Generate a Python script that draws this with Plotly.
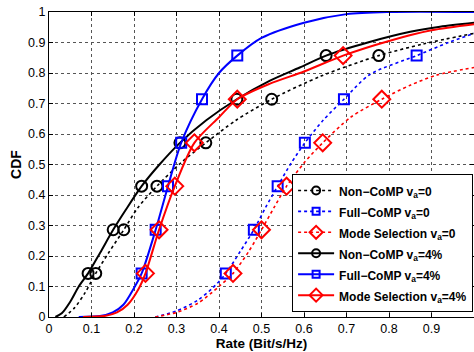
import plotly.graph_objects as go

# ---- data ----
# smooth CDF curves (x = rate, y = CDF)
nc4_x = [0.015, 0.03, 0.05, 0.07, 0.092, 0.12, 0.151, 0.18, 0.218, 0.26, 0.308, 0.37, 0.442, 0.52, 0.59, 0.652, 0.75, 0.85, 0.92, 1.0]
nc4_y = [0.0, 0.012, 0.05, 0.1, 0.143, 0.21, 0.286, 0.35, 0.429, 0.5, 0.571, 0.645, 0.714, 0.775, 0.818, 0.857, 0.9, 0.935, 0.952, 0.965]

nc0_x = [0.035, 0.06, 0.085, 0.11, 0.14, 0.176, 0.21, 0.254, 0.31, 0.369, 0.44, 0.524, 0.64, 0.776, 0.88, 1.0]
nc0_y = [0.0, 0.03, 0.08, 0.143, 0.21, 0.286, 0.36, 0.429, 0.505, 0.571, 0.645, 0.714, 0.79, 0.857, 0.895, 0.93]

fc4_x = [0.07, 0.12, 0.15, 0.175, 0.2, 0.218, 0.251, 0.28, 0.311, 0.36, 0.4, 0.443, 0.5, 0.6, 0.7, 0.8, 1.0]
fc4_y = [0.0, 0.003, 0.015, 0.04, 0.095, 0.143, 0.286, 0.429, 0.571, 0.714, 0.8, 0.857, 0.915, 0.965, 0.993, 1.0, 1.0]

fc0_x = [0.25, 0.3, 0.35, 0.385, 0.416, 0.45, 0.482, 0.51, 0.538, 0.57, 0.602, 0.645, 0.694, 0.755, 0.865, 0.94, 1.0]
fc0_y = [0.0, 0.02, 0.055, 0.095, 0.143, 0.215, 0.286, 0.36, 0.429, 0.505, 0.571, 0.645, 0.714, 0.795, 0.857, 0.9, 0.93]

ms4_x = [0.08, 0.13, 0.16, 0.185, 0.21, 0.227, 0.259, 0.296, 0.342, 0.4, 0.443, 0.52, 0.6, 0.692, 0.8, 0.9, 1.0]
ms4_y = [0.0, 0.003, 0.015, 0.04, 0.09, 0.143, 0.286, 0.429, 0.571, 0.655, 0.714, 0.765, 0.805, 0.857, 0.905, 0.94, 0.96]

ms0_x = [0.25, 0.3, 0.35, 0.4, 0.433, 0.47, 0.5, 0.53, 0.559, 0.6, 0.644, 0.71, 0.783, 0.85, 0.912, 1.0]
ms0_y = [0.0, 0.015, 0.045, 0.1, 0.143, 0.215, 0.286, 0.36, 0.429, 0.505, 0.571, 0.655, 0.714, 0.76, 0.793, 0.818]

# marker positions
mk_levels = [0.143, 0.286, 0.429, 0.571, 0.714, 0.857]
nc4_mx = [0.092, 0.151, 0.218, 0.308, 0.442, 0.652]
nc0_mx = [0.11, 0.176, 0.254, 0.369, 0.524, 0.776]
fc4_mx = [0.218, 0.251, 0.28, 0.311, 0.36, 0.443]
fc0_mx = [0.416, 0.482, 0.538, 0.602, 0.694, 0.865]
ms4_mx = [0.227, 0.259, 0.296, 0.342, 0.443, 0.692]
ms0_mx = [0.433, 0.5, 0.559, 0.644, 0.783]

x_ticks = [0, 0.1, 0.2, 0.3, 0.4, 0.5, 0.6, 0.7, 0.8, 0.9, 1]
x_ticklabels = ["0", "0.1", "0.2", "0.3", "0.4", "0.5", "0.6", "0.7", "0.8", "0.9", "1"]
y_ticks = [0, 0.1, 0.2, 0.3, 0.4, 0.5, 0.6, 0.7, 0.8, 0.9, 1]
y_ticklabels = ["0", "0.1", "0.2", "0.3", "0.4", "0.5", "0.6", "0.7", "0.8", "0.9", "1"]

series = [
    ("Non\u2212CoMP v<sub>a</sub>=0", nc0_x, nc0_y, nc0_mx, "black", "dot", "circle-open", 11),
    ("Full\u2212CoMP v<sub>a</sub>=0", fc0_x, fc0_y, fc0_mx, "blue", "dot", "square-open", 10),
    ("Mode Selection v<sub>a</sub>=0", ms0_x, ms0_y, ms0_mx, "red", "dot", "diamond-open", 13),
    ("Non\u2212CoMP v<sub>a</sub>=4%", nc4_x, nc4_y, nc4_mx, "black", "solid", "circle-open", 11),
    ("Full\u2212CoMP v<sub>a</sub>=4%", fc4_x, fc4_y, fc4_mx, "blue", "solid", "square-open", 10),
    ("Mode Selection v<sub>a</sub>=4%", ms4_x, ms4_y, ms4_mx, "red", "solid", "diamond-open", 13),
]

fig = go.Figure()
for name, cx, cy, mx, col, dash, sym, sz in series:
    lw = 2 if dash == "solid" else 1.6
    fig.add_trace(go.Scatter(x=cx, y=cy, mode="lines", line=dict(color=col, width=lw, dash=dash, shape="spline", smoothing=0.8),
                             showlegend=False, hoverinfo="skip"))
    fig.add_trace(go.Scatter(x=mx, y=mk_levels[:len(mx)], mode="markers",
                             marker=dict(symbol=sym, size=sz, color=col, line=dict(color=col, width=2)),
                             showlegend=False))
for name, cx, cy, mx, col, dash, sym, sz in series:
    lw = 2 if dash == "solid" else 1.6
    fig.add_trace(go.Scatter(x=[None], y=[None], mode="lines+markers",
                             name='<span style="font-size:12px"><b>' + name + '</b></span>',
                             line=dict(color=col, width=lw, dash=dash),
                             marker=dict(symbol=sym, size=sz - 3, color=col, line=dict(color=col, width=2))))

axis_common = dict(showline=True, linecolor="black", linewidth=1, mirror="ticks", ticks="inside", ticklen=4,
                   tickcolor="black", showgrid=True, gridcolor="#555555", griddash="dot", gridwidth=1,
                   zeroline=False, tickfont=dict(family="Liberation Sans", size=12.5, color="black"))

fig.update_xaxes(range=[0, 1], tickvals=x_ticks, ticktext=x_ticklabels,
                 title=dict(text="<b>Rate (Bit/s/Hz)</b>", font=dict(family="Liberation Sans", size=13.5, color="black"), standoff=2),
                 **axis_common)
fig.update_yaxes(range=[0, 1], tickvals=y_ticks, ticktext=y_ticklabels,
                 title=dict(text="<b>CDF</b>", font=dict(family="Liberation Sans", size=14, color="black"), standoff=3),
                 **axis_common)

fig.update_layout(
    width=474, height=352,
    margin=dict(l=49, r=0, t=12, b=35),
    plot_bgcolor="white", paper_bgcolor="white",
    legend=dict(x=0.572, y=0.469, xanchor="left", yanchor="top", bgcolor="white",
                bordercolor="black", borderwidth=1,
                font=dict(family="Liberation Sans", size=13.8, color="black"),
                itemwidth=36, tracegroupgap=0),
    font=dict(family="Liberation Sans", color="black"),
)

fig.write_html("out.html", config={"displayModeBar": False},
               post_script="document.body.style.margin='0';document.body.style.overflow='hidden';")
